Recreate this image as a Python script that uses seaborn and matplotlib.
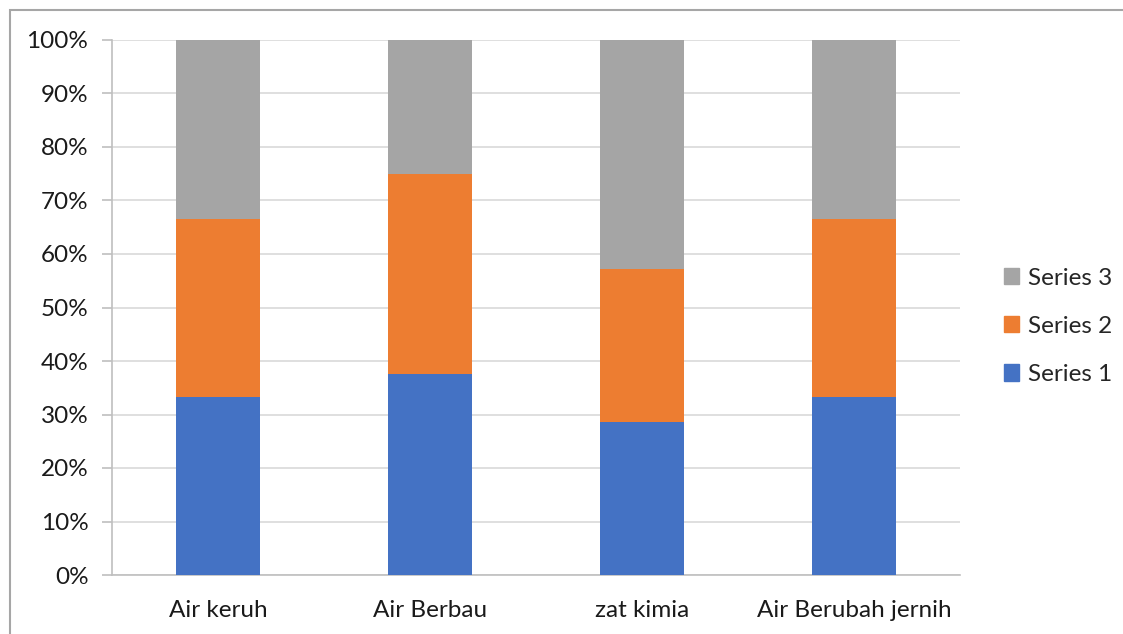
import matplotlib
matplotlib.use("Agg")
import matplotlib.pyplot as plt
import matplotlib.patches as mpatches
from matplotlib.ticker import PercentFormatter, FixedLocator
import pandas as pd
import seaborn as sns

categories = ["Air keruh", "Air Berbau", "zat kimia", "Air Berubah jernih"]
series_1 = [33.3, 37.5, 28.6, 33.3]
series_2 = [33.3, 37.5, 28.6, 33.3]
series_3 = [33.4, 25.0, 42.8, 33.4]
series_names = ["Series 1", "Series 2", "Series 3"]
colors = ["#4472C4", "#ED7D31", "#A5A5A5"]

sns.set_style("white")
plt.rcParams["font.family"] = ["Lato", "DejaVu Sans"]

df = pd.DataFrame(
    {"cat": categories, "s1": series_1, "s2": series_2, "s3": series_3}
)
df["c1"] = df["s1"]
df["c2"] = df["s1"] + df["s2"]
df["c3"] = df["c2"] + df["s3"]

fig = plt.figure(figsize=(11.23, 6.34), dpi=100)
ax = fig.add_axes([112 / 1123, 1 - 575 / 634, 848 / 1123, 535 / 634])

# draw cumulative bars from the top down so lower ones sit in front
for col, color in zip(["c3", "c2", "c1"], colors[::-1]):
    sns.barplot(data=df, x="cat", y=col, color=color, width=0.4,
                saturation=1, linewidth=0, ax=ax, zorder=3)

ax.set_ylim(0, 100)
ax.set_xlim(-0.5, len(categories) - 0.5)
ax.yaxis.set_major_locator(FixedLocator(range(0, 101, 10)))
ax.yaxis.set_major_formatter(PercentFormatter(decimals=0))
ax.grid(axis="y", color="#d9d9d9", lw=1.2, zorder=0)
ax.set_xlabel("")
ax.set_ylabel("")

for s in ["top", "right"]:
    ax.spines[s].set_visible(False)
for s in ["left", "bottom"]:
    ax.spines[s].set_color("#bfbfbf")
    ax.spines[s].set_linewidth(1.2)

ax.set_xticks([x - 0.5 for x in range(len(categories) + 1)], minor=True)
ax.tick_params(axis="x", which="major", length=0, pad=18, labelsize=17.5,
               labelcolor="#1a1a1a")
ax.tick_params(axis="x", which="minor", length=7, width=1.2, color="#bfbfbf",
               direction="out")
ax.tick_params(axis="y", length=7, width=1.2, color="#bfbfbf", pad=10,
               labelsize=17.5, labelcolor="#1a1a1a", left=True)

handles = [mpatches.Patch(color=c, label=n) for c, n in zip(colors, series_names)]
ax.legend(handles=handles[::-1], loc="center left",
          bbox_to_anchor=(1.04, 0.465), frameon=False, fontsize=17.5,
          handlelength=0.65, handleheight=0.65, handletextpad=0.35,
          labelspacing=1.12, borderaxespad=0)

fig.add_artist(mpatches.Rectangle((10 / 1123, -0.1), 1.2, 1.1 - 10 / 634,
                                  transform=fig.transFigure, fill=False,
                                  edgecolor="#a6a6a6", lw=1.5))

fig.savefig("out.png", dpi=100)
